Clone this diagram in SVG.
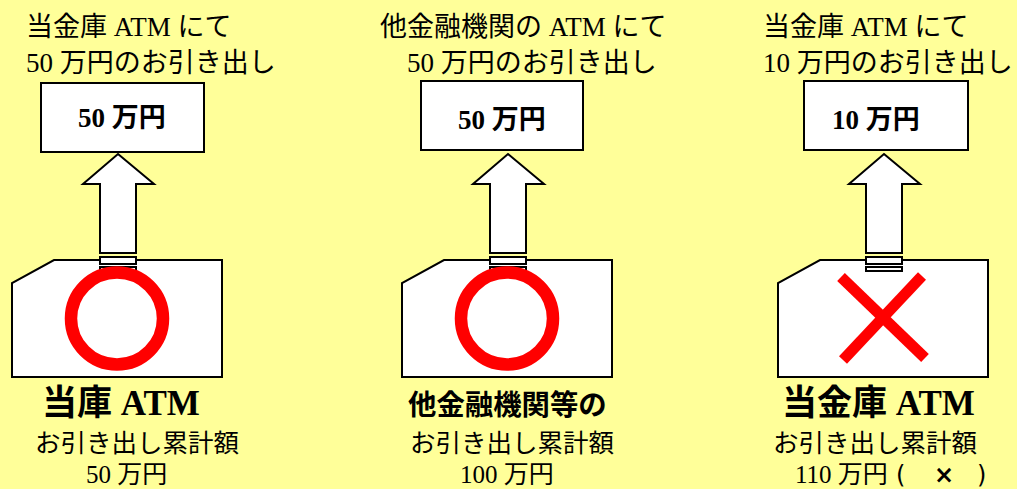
<svg xmlns="http://www.w3.org/2000/svg" width="1017" height="489" viewBox="0 0 1017 489">
  <style>
    .t { font-family: "Liberation Serif", "Noto Sans CJK JP", serif; fill: #000; }
    .top { font-size: 27px; }
    .lbl { font-size: 27px; font-weight: bold; }
    .big { font-size: 35px; font-weight: bold; }
    .sub { font-size: 25.5px; }
    .amt { font-size: 25px; }
    .sym { font-family: "DejaVu Sans", "Liberation Sans", sans-serif; font-size: 24px; }
    .box { fill: #fff; stroke: #000; stroke-width: 2; }
    .ok { fill: none; stroke: #ff0000; stroke-width: 12.5; }
    .ng { stroke: #ff0000; stroke-width: 11; stroke-linecap: butt; }
  </style>
  <defs>
    <polygon id="arrowShape" class="box" points="118,154 154,184 136,184 136,253 100,253 100,184 83,184"/>
    <polygon id="cardShape" class="box" points="54,260 222,260 222,377 12,377 12,283"/>
    <g id="slot">
      <rect class="box" x="100" y="257" width="36" height="7"/>
      <rect class="box" x="100" y="267" width="36" height="4"/>
    </g>
  </defs>
  <rect width="1017" height="489" fill="#ffff99"/>

  <g id="panel1">
    <text class="t top" x="26" y="36">当金庫 ATM にて</text>
    <text class="t top" x="26" y="72">50 万円のお引き出し</text>
    <g id="box1">
      <rect class="box" x="41" y="83" width="163" height="69"/>
      <text class="t lbl" x="78" y="127">50 万円</text>
    </g>
    <g id="card1">
      <use href="#cardShape"/>
      <use href="#slot"/>
      <circle class="ok" cx="117" cy="318.5" r="46"/>
    </g>
    <text class="t big" x="42" y="415">当庫 ATM</text>
    <text class="t sub" x="35" y="452">お引き出し累計額</text>
    <text class="t amt" x="86" y="483">50 万円</text>
  </g>

  <g id="panel2">
    <text class="t top" x="380" y="36">他金融機関の ATM にて</text>
    <text class="t top" x="407" y="72">50 万円のお引き出し</text>
    <g id="box2">
      <rect class="box" x="421" y="81" width="162" height="69"/>
      <text class="t lbl" x="458" y="129">50 万円</text>
    </g>
    <g id="card2">
      <use href="#cardShape" transform="translate(390,0)"/>
      <use href="#slot" transform="translate(390,0)"/>
      <circle class="ok" cx="507" cy="318.5" r="46"/>
    </g>
    <text class="t big" style="font-size:28.4px" x="408" y="415">他金融機関等の</text>
    <text class="t sub" x="410" y="452">お引き出し累計額</text>
    <text class="t amt" x="460" y="483">100 万円</text>
  </g>

  <g id="panel3">
    <text class="t top" x="763" y="36">当金庫 ATM にて</text>
    <text class="t top" x="763" y="72">10 万円のお引き出し</text>
    <g id="box3">
      <rect class="box" x="804" y="81" width="164" height="69"/>
      <text class="t lbl" x="832" y="129">10 万円</text>
    </g>
    <g id="card3">
      <use href="#cardShape" transform="translate(766,0)"/>
      <use href="#slot" transform="translate(766,0)"/>
      <line class="ng" x1="841" y1="277" x2="925" y2="358"/>
      <line class="ng" x1="922" y1="276" x2="843" y2="360"/>
    </g>
    <text class="t big" x="782" y="415">当金庫 ATM</text>
    <text class="t sub" x="773" y="452">お引き出し累計額</text>
    <text class="t amt" x="795" y="483">110 万円 <tspan class="sym" x="896">(</tspan> <tspan class="sym" x="934" font-weight="bold">×</tspan> <tspan class="sym" x="977">)</tspan></text>
  </g>

  <g id="connectors">
    <use href="#arrowShape"/>
    <use href="#arrowShape" transform="translate(390,0)"/>
    <use href="#arrowShape" transform="translate(766,0)"/>
  </g>
</svg>
